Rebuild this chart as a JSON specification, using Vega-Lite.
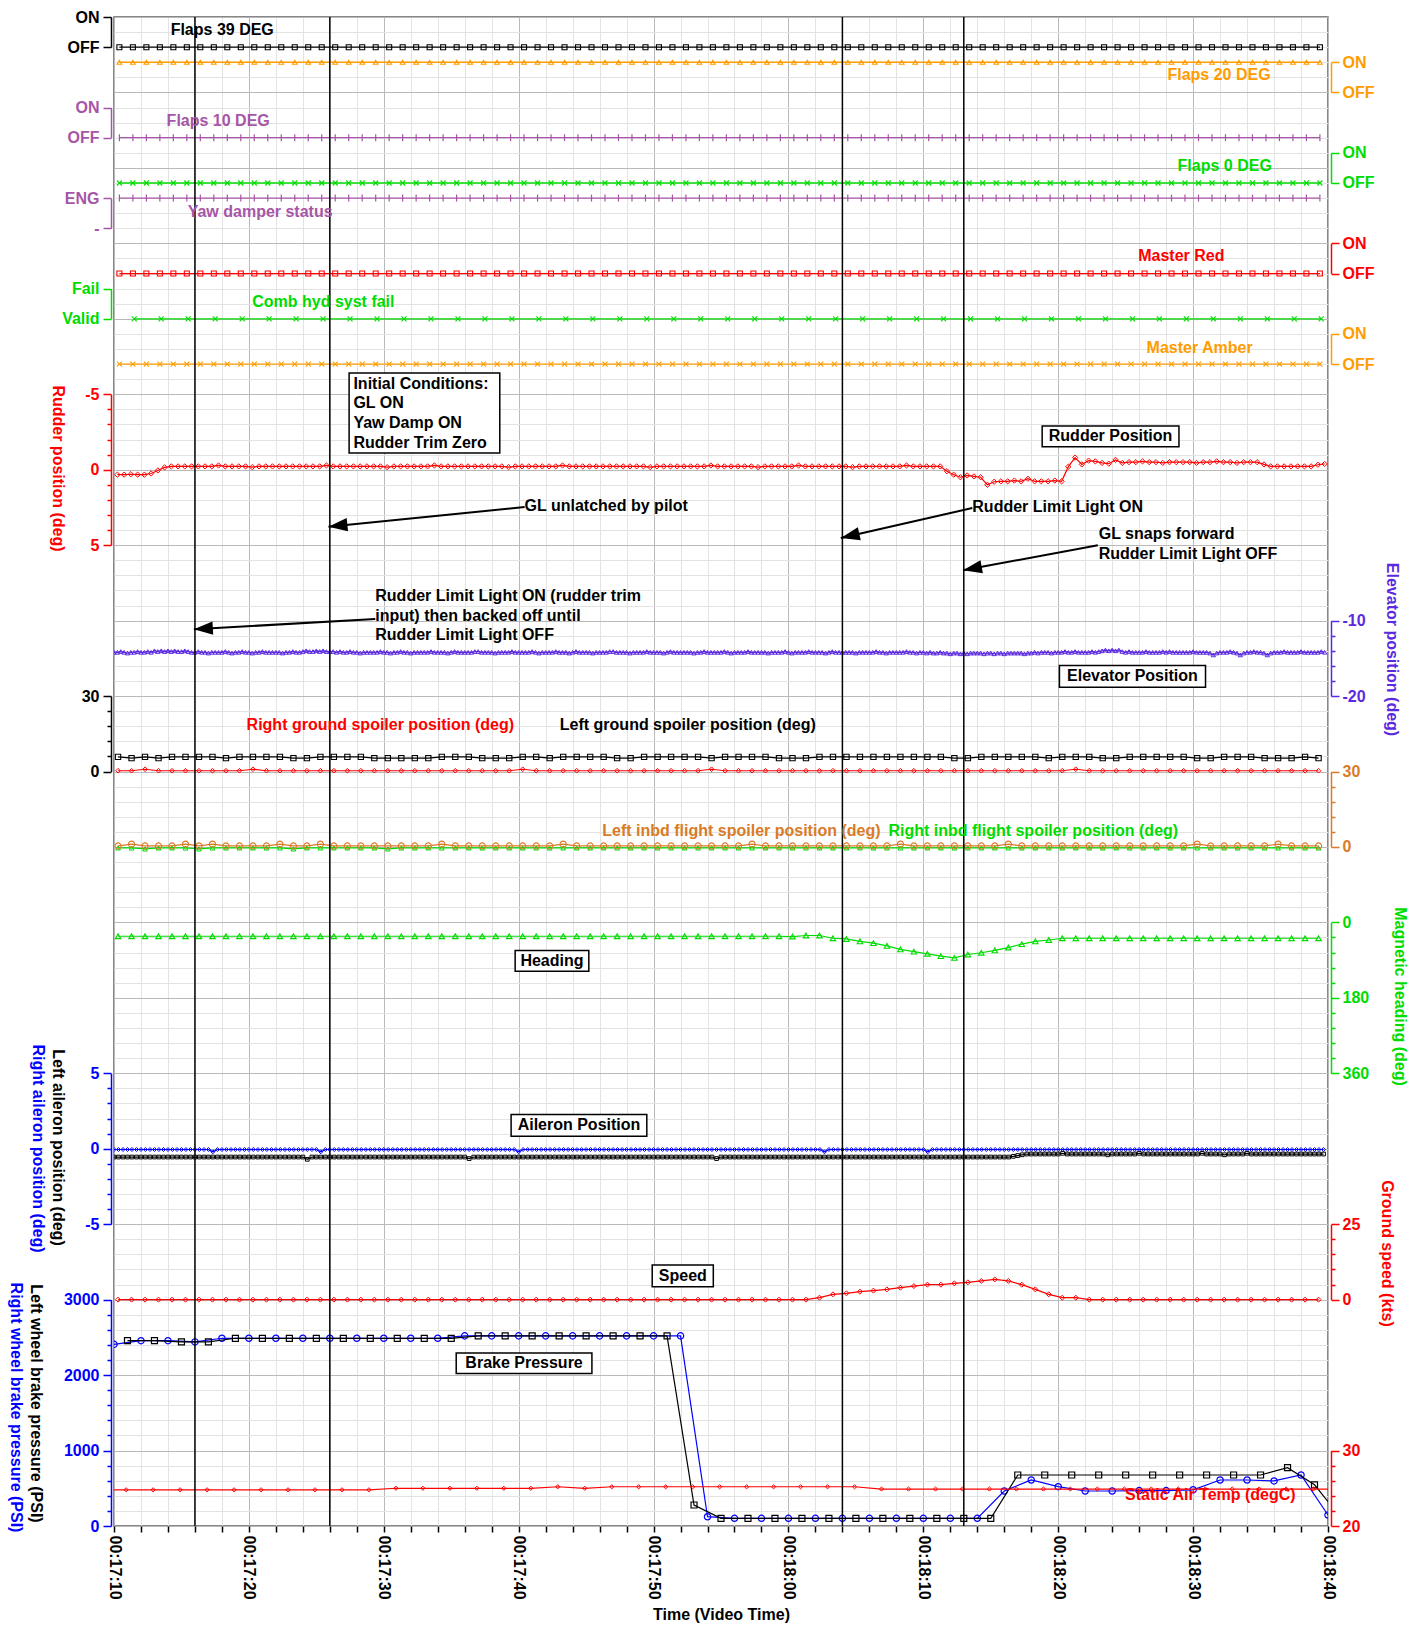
{
"$schema":"https://vega.github.io/schema/vega-lite/v6.json",
"width":1214,"height":1509,
"autosize":{"type":"none"},
"padding":{"left":114,"top":17,"right":85,"bottom":99},
"background":"white",
"config":{
 "view":{"stroke":"#606060","strokeWidth":1.5},
 "font":"Liberation Sans",
 "axis":{"labelFont":"Liberation Sans","labelFontSize":16,"labelFontWeight":"bold","titleFont":"Liberation Sans","titleFontSize":16,"titleFontWeight":"bold","grid":false,"labelOverlap":false,"labelFlush":false,"domainWidth":1.5,"tickWidth":1.5},
 "text":{"font":"Liberation Sans","fontSize":16,"fontWeight":"bold"}
},
"datasets":{
"frame":[{"t":0,"g":0},{"t":90,"g":100}],
"events":[{"t":6},{"t":16},{"t":54},{"t":63}],
"bin":[
{"t":0.4,"f39":0,"f20":1,"f10":0,"f0":0,"yd":1,"mr":0,"ma":0},{"t":1.4,"f39":0,"f20":1,"f10":0,"f0":0,"yd":1,"mr":0,"ma":0},{"t":2.4,"f39":0,"f20":1,"f10":0,"f0":0,"yd":1,"mr":0,"ma":0},{"t":3.4,"f39":0,"f20":1,"f10":0,"f0":0,"yd":1,"mr":0,"ma":0},{"t":4.4,"f39":0,"f20":1,"f10":0,"f0":0,"yd":1,"mr":0,"ma":0},
{"t":5.4,"f39":0,"f20":1,"f10":0,"f0":0,"yd":1,"mr":0,"ma":0},{"t":6.4,"f39":0,"f20":1,"f10":0,"f0":0,"yd":1,"mr":0,"ma":0},{"t":7.4,"f39":0,"f20":1,"f10":0,"f0":0,"yd":1,"mr":0,"ma":0},{"t":8.4,"f39":0,"f20":1,"f10":0,"f0":0,"yd":1,"mr":0,"ma":0},{"t":9.4,"f39":0,"f20":1,"f10":0,"f0":0,"yd":1,"mr":0,"ma":0},
{"t":10.4,"f39":0,"f20":1,"f10":0,"f0":0,"yd":1,"mr":0,"ma":0},{"t":11.4,"f39":0,"f20":1,"f10":0,"f0":0,"yd":1,"mr":0,"ma":0},{"t":12.4,"f39":0,"f20":1,"f10":0,"f0":0,"yd":1,"mr":0,"ma":0},{"t":13.4,"f39":0,"f20":1,"f10":0,"f0":0,"yd":1,"mr":0,"ma":0},{"t":14.4,"f39":0,"f20":1,"f10":0,"f0":0,"yd":1,"mr":0,"ma":0},
{"t":15.4,"f39":0,"f20":1,"f10":0,"f0":0,"yd":1,"mr":0,"ma":0},{"t":16.4,"f39":0,"f20":1,"f10":0,"f0":0,"yd":1,"mr":0,"ma":0},{"t":17.4,"f39":0,"f20":1,"f10":0,"f0":0,"yd":1,"mr":0,"ma":0},{"t":18.4,"f39":0,"f20":1,"f10":0,"f0":0,"yd":1,"mr":0,"ma":0},{"t":19.4,"f39":0,"f20":1,"f10":0,"f0":0,"yd":1,"mr":0,"ma":0},
{"t":20.4,"f39":0,"f20":1,"f10":0,"f0":0,"yd":1,"mr":0,"ma":0},{"t":21.4,"f39":0,"f20":1,"f10":0,"f0":0,"yd":1,"mr":0,"ma":0},{"t":22.4,"f39":0,"f20":1,"f10":0,"f0":0,"yd":1,"mr":0,"ma":0},{"t":23.4,"f39":0,"f20":1,"f10":0,"f0":0,"yd":1,"mr":0,"ma":0},{"t":24.4,"f39":0,"f20":1,"f10":0,"f0":0,"yd":1,"mr":0,"ma":0},
{"t":25.4,"f39":0,"f20":1,"f10":0,"f0":0,"yd":1,"mr":0,"ma":0},{"t":26.4,"f39":0,"f20":1,"f10":0,"f0":0,"yd":1,"mr":0,"ma":0},{"t":27.4,"f39":0,"f20":1,"f10":0,"f0":0,"yd":1,"mr":0,"ma":0},{"t":28.4,"f39":0,"f20":1,"f10":0,"f0":0,"yd":1,"mr":0,"ma":0},{"t":29.4,"f39":0,"f20":1,"f10":0,"f0":0,"yd":1,"mr":0,"ma":0},
{"t":30.4,"f39":0,"f20":1,"f10":0,"f0":0,"yd":1,"mr":0,"ma":0},{"t":31.4,"f39":0,"f20":1,"f10":0,"f0":0,"yd":1,"mr":0,"ma":0},{"t":32.4,"f39":0,"f20":1,"f10":0,"f0":0,"yd":1,"mr":0,"ma":0},{"t":33.4,"f39":0,"f20":1,"f10":0,"f0":0,"yd":1,"mr":0,"ma":0},{"t":34.4,"f39":0,"f20":1,"f10":0,"f0":0,"yd":1,"mr":0,"ma":0},
{"t":35.4,"f39":0,"f20":1,"f10":0,"f0":0,"yd":1,"mr":0,"ma":0},{"t":36.4,"f39":0,"f20":1,"f10":0,"f0":0,"yd":1,"mr":0,"ma":0},{"t":37.4,"f39":0,"f20":1,"f10":0,"f0":0,"yd":1,"mr":0,"ma":0},{"t":38.4,"f39":0,"f20":1,"f10":0,"f0":0,"yd":1,"mr":0,"ma":0},{"t":39.4,"f39":0,"f20":1,"f10":0,"f0":0,"yd":1,"mr":0,"ma":0},
{"t":40.4,"f39":0,"f20":1,"f10":0,"f0":0,"yd":1,"mr":0,"ma":0},{"t":41.4,"f39":0,"f20":1,"f10":0,"f0":0,"yd":1,"mr":0,"ma":0},{"t":42.4,"f39":0,"f20":1,"f10":0,"f0":0,"yd":1,"mr":0,"ma":0},{"t":43.4,"f39":0,"f20":1,"f10":0,"f0":0,"yd":1,"mr":0,"ma":0},{"t":44.4,"f39":0,"f20":1,"f10":0,"f0":0,"yd":1,"mr":0,"ma":0},
{"t":45.4,"f39":0,"f20":1,"f10":0,"f0":0,"yd":1,"mr":0,"ma":0},{"t":46.4,"f39":0,"f20":1,"f10":0,"f0":0,"yd":1,"mr":0,"ma":0},{"t":47.4,"f39":0,"f20":1,"f10":0,"f0":0,"yd":1,"mr":0,"ma":0},{"t":48.4,"f39":0,"f20":1,"f10":0,"f0":0,"yd":1,"mr":0,"ma":0},{"t":49.4,"f39":0,"f20":1,"f10":0,"f0":0,"yd":1,"mr":0,"ma":0},
{"t":50.4,"f39":0,"f20":1,"f10":0,"f0":0,"yd":1,"mr":0,"ma":0},{"t":51.4,"f39":0,"f20":1,"f10":0,"f0":0,"yd":1,"mr":0,"ma":0},{"t":52.4,"f39":0,"f20":1,"f10":0,"f0":0,"yd":1,"mr":0,"ma":0},{"t":53.4,"f39":0,"f20":1,"f10":0,"f0":0,"yd":1,"mr":0,"ma":0},{"t":54.4,"f39":0,"f20":1,"f10":0,"f0":0,"yd":1,"mr":0,"ma":0},
{"t":55.4,"f39":0,"f20":1,"f10":0,"f0":0,"yd":1,"mr":0,"ma":0},{"t":56.4,"f39":0,"f20":1,"f10":0,"f0":0,"yd":1,"mr":0,"ma":0},{"t":57.4,"f39":0,"f20":1,"f10":0,"f0":0,"yd":1,"mr":0,"ma":0},{"t":58.4,"f39":0,"f20":1,"f10":0,"f0":0,"yd":1,"mr":0,"ma":0},{"t":59.4,"f39":0,"f20":1,"f10":0,"f0":0,"yd":1,"mr":0,"ma":0},
{"t":60.4,"f39":0,"f20":1,"f10":0,"f0":0,"yd":1,"mr":0,"ma":0},{"t":61.4,"f39":0,"f20":1,"f10":0,"f0":0,"yd":1,"mr":0,"ma":0},{"t":62.4,"f39":0,"f20":1,"f10":0,"f0":0,"yd":1,"mr":0,"ma":0},{"t":63.4,"f39":0,"f20":1,"f10":0,"f0":0,"yd":1,"mr":0,"ma":0},{"t":64.4,"f39":0,"f20":1,"f10":0,"f0":0,"yd":1,"mr":0,"ma":0},
{"t":65.4,"f39":0,"f20":1,"f10":0,"f0":0,"yd":1,"mr":0,"ma":0},{"t":66.4,"f39":0,"f20":1,"f10":0,"f0":0,"yd":1,"mr":0,"ma":0},{"t":67.4,"f39":0,"f20":1,"f10":0,"f0":0,"yd":1,"mr":0,"ma":0},{"t":68.4,"f39":0,"f20":1,"f10":0,"f0":0,"yd":1,"mr":0,"ma":0},{"t":69.4,"f39":0,"f20":1,"f10":0,"f0":0,"yd":1,"mr":0,"ma":0},
{"t":70.4,"f39":0,"f20":1,"f10":0,"f0":0,"yd":1,"mr":0,"ma":0},{"t":71.4,"f39":0,"f20":1,"f10":0,"f0":0,"yd":1,"mr":0,"ma":0},{"t":72.4,"f39":0,"f20":1,"f10":0,"f0":0,"yd":1,"mr":0,"ma":0},{"t":73.4,"f39":0,"f20":1,"f10":0,"f0":0,"yd":1,"mr":0,"ma":0},{"t":74.4,"f39":0,"f20":1,"f10":0,"f0":0,"yd":1,"mr":0,"ma":0},
{"t":75.4,"f39":0,"f20":1,"f10":0,"f0":0,"yd":1,"mr":0,"ma":0},{"t":76.4,"f39":0,"f20":1,"f10":0,"f0":0,"yd":1,"mr":0,"ma":0},{"t":77.4,"f39":0,"f20":1,"f10":0,"f0":0,"yd":1,"mr":0,"ma":0},{"t":78.4,"f39":0,"f20":1,"f10":0,"f0":0,"yd":1,"mr":0,"ma":0},{"t":79.4,"f39":0,"f20":1,"f10":0,"f0":0,"yd":1,"mr":0,"ma":0},
{"t":80.4,"f39":0,"f20":1,"f10":0,"f0":0,"yd":1,"mr":0,"ma":0},{"t":81.4,"f39":0,"f20":1,"f10":0,"f0":0,"yd":1,"mr":0,"ma":0},{"t":82.4,"f39":0,"f20":1,"f10":0,"f0":0,"yd":1,"mr":0,"ma":0},{"t":83.4,"f39":0,"f20":1,"f10":0,"f0":0,"yd":1,"mr":0,"ma":0},{"t":84.4,"f39":0,"f20":1,"f10":0,"f0":0,"yd":1,"mr":0,"ma":0},
{"t":85.4,"f39":0,"f20":1,"f10":0,"f0":0,"yd":1,"mr":0,"ma":0},{"t":86.4,"f39":0,"f20":1,"f10":0,"f0":0,"yd":1,"mr":0,"ma":0},{"t":87.4,"f39":0,"f20":1,"f10":0,"f0":0,"yd":1,"mr":0,"ma":0},{"t":88.4,"f39":0,"f20":1,"f10":0,"f0":0,"yd":1,"mr":0,"ma":0},{"t":89.4,"f39":0,"f20":1,"f10":0,"f0":0,"yd":1,"mr":0,"ma":0}
],
"hyd":[{"t":1.5,"ch":0},{"t":3.5,"ch":0},{"t":5.5,"ch":0},{"t":7.5,"ch":0},{"t":9.5,"ch":0},{"t":11.5,"ch":0},{"t":13.5,"ch":0},{"t":15.5,"ch":0},{"t":17.5,"ch":0},{"t":19.5,"ch":0},{"t":21.5,"ch":0},{"t":23.5,"ch":0},{"t":25.5,"ch":0},{"t":27.5,"ch":0},{"t":29.5,"ch":0},{"t":31.5,"ch":0},{"t":33.5,"ch":0},{"t":35.5,"ch":0},{"t":37.5,"ch":0},{"t":39.5,"ch":0},{"t":41.5,"ch":0},{"t":43.5,"ch":0},{"t":45.5,"ch":0},{"t":47.5,"ch":0},{"t":49.5,"ch":0},{"t":51.5,"ch":0},{"t":53.5,"ch":0},{"t":55.5,"ch":0},{"t":57.5,"ch":0},{"t":59.5,"ch":0},{"t":61.5,"ch":0},{"t":63.5,"ch":0},{"t":65.5,"ch":0},{"t":67.5,"ch":0},{"t":69.5,"ch":0},{"t":71.5,"ch":0},{"t":73.5,"ch":0},{"t":75.5,"ch":0},{"t":77.5,"ch":0},{"t":79.5,"ch":0},{"t":81.5,"ch":0},{"t":83.5,"ch":0},{"t":85.5,"ch":0},{"t":87.5,"ch":0},{"t":89.5,"ch":0}],
"rud":[
{"t":0.25,"v":0.33},{"t":0.75,"v":0.33},{"t":1.25,"v":0.3},{"t":1.75,"v":0.33},{"t":2.25,"v":0.33},{"t":2.75,"v":0.25},{"t":3.25,"v":0.05},{"t":3.75,"v":-0.15},{"t":4.25,"v":-0.22},{"t":4.75,"v":-0.22},
{"t":5.25,"v":-0.22},{"t":5.75,"v":-0.22},{"t":6.25,"v":-0.22},{"t":6.75,"v":-0.22},{"t":7.25,"v":-0.22},{"t":7.75,"v":-0.28},{"t":8.25,"v":-0.22},{"t":8.75,"v":-0.22},{"t":9.25,"v":-0.22},{"t":9.75,"v":-0.22},
{"t":10.25,"v":-0.17},{"t":10.75,"v":-0.22},{"t":11.25,"v":-0.22},{"t":11.75,"v":-0.22},{"t":12.25,"v":-0.22},{"t":12.75,"v":-0.22},{"t":13.25,"v":-0.22},{"t":13.75,"v":-0.22},{"t":14.25,"v":-0.22},{"t":14.75,"v":-0.22},
{"t":15.25,"v":-0.22},{"t":15.75,"v":-0.28},{"t":16.25,"v":-0.22},{"t":16.75,"v":-0.22},{"t":17.25,"v":-0.22},{"t":17.75,"v":-0.22},{"t":18.25,"v":-0.22},{"t":18.75,"v":-0.22},{"t":19.25,"v":-0.22},{"t":19.75,"v":-0.22},
{"t":20.25,"v":-0.17},{"t":20.75,"v":-0.22},{"t":21.25,"v":-0.22},{"t":21.75,"v":-0.22},{"t":22.25,"v":-0.22},{"t":22.75,"v":-0.22},{"t":23.25,"v":-0.22},{"t":23.75,"v":-0.28},{"t":24.25,"v":-0.22},{"t":24.75,"v":-0.22},
{"t":25.25,"v":-0.22},{"t":25.75,"v":-0.22},{"t":26.25,"v":-0.22},{"t":26.75,"v":-0.22},{"t":27.25,"v":-0.22},{"t":27.75,"v":-0.22},{"t":28.25,"v":-0.22},{"t":28.75,"v":-0.22},{"t":29.25,"v":-0.17},{"t":29.75,"v":-0.22},
{"t":30.25,"v":-0.22},{"t":30.75,"v":-0.22},{"t":31.25,"v":-0.22},{"t":31.75,"v":-0.22},{"t":32.25,"v":-0.22},{"t":32.75,"v":-0.22},{"t":33.25,"v":-0.28},{"t":33.75,"v":-0.22},{"t":34.25,"v":-0.22},{"t":34.75,"v":-0.22},
{"t":35.25,"v":-0.22},{"t":35.75,"v":-0.22},{"t":36.25,"v":-0.22},{"t":36.75,"v":-0.22},{"t":37.25,"v":-0.22},{"t":37.75,"v":-0.22},{"t":38.25,"v":-0.22},{"t":38.75,"v":-0.22},{"t":39.25,"v":-0.22},{"t":39.75,"v":-0.17},
{"t":40.25,"v":-0.22},{"t":40.75,"v":-0.22},{"t":41.25,"v":-0.22},{"t":41.75,"v":-0.22},{"t":42.25,"v":-0.22},{"t":42.75,"v":-0.22},{"t":43.25,"v":-0.22},{"t":43.75,"v":-0.22},{"t":44.25,"v":-0.28},{"t":44.75,"v":-0.22},
{"t":45.25,"v":-0.22},{"t":45.75,"v":-0.22},{"t":46.25,"v":-0.22},{"t":46.75,"v":-0.22},{"t":47.25,"v":-0.22},{"t":47.75,"v":-0.17},{"t":48.25,"v":-0.22},{"t":48.75,"v":-0.22},{"t":49.25,"v":-0.22},{"t":49.75,"v":-0.22},
{"t":50.25,"v":-0.22},{"t":50.75,"v":-0.28},{"t":51.25,"v":-0.22},{"t":51.75,"v":-0.22},{"t":52.25,"v":-0.22},{"t":52.75,"v":-0.22},{"t":53.25,"v":-0.22},{"t":53.75,"v":-0.22},{"t":54.25,"v":-0.22},{"t":54.75,"v":-0.17},
{"t":55.25,"v":-0.22},{"t":55.75,"v":-0.22},{"t":56.25,"v":-0.22},{"t":56.75,"v":-0.22},{"t":57.25,"v":-0.22},{"t":57.75,"v":-0.22},{"t":58.25,"v":-0.22},{"t":58.75,"v":-0.28},{"t":59.25,"v":-0.22},{"t":59.75,"v":-0.22},
{"t":60.25,"v":-0.22},{"t":60.75,"v":-0.22},{"t":61.25,"v":-0.22},{"t":61.75,"v":0.1},{"t":62.25,"v":0.33},{"t":62.75,"v":0.5},{"t":63.25,"v":0.38},{"t":63.75,"v":0.44},{"t":64.25,"v":0.5},{"t":64.75,"v":1.0},
{"t":65.25,"v":0.8},{"t":65.75,"v":0.77},{"t":66.25,"v":0.77},{"t":66.75,"v":0.72},{"t":67.25,"v":0.77},{"t":67.75,"v":0.6},{"t":68.25,"v":0.77},{"t":68.75,"v":0.77},{"t":69.25,"v":0.77},{"t":69.75,"v":0.72},
{"t":70.25,"v":0.77},{"t":70.75,"v":-0.2},{"t":71.25,"v":-0.8},{"t":71.75,"v":-0.35},{"t":72.25,"v":-0.6},{"t":72.75,"v":-0.55},{"t":73.25,"v":-0.45},{"t":73.75,"v":-0.4},{"t":74.25,"v":-0.65},{"t":74.75,"v":-0.45},
{"t":75.25,"v":-0.5},{"t":75.75,"v":-0.5},{"t":76.25,"v":-0.55},{"t":76.75,"v":-0.5},{"t":77.25,"v":-0.5},{"t":77.75,"v":-0.45},{"t":78.25,"v":-0.5},{"t":78.75,"v":-0.5},{"t":79.25,"v":-0.5},{"t":79.75,"v":-0.5},
{"t":80.25,"v":-0.45},{"t":80.75,"v":-0.5},{"t":81.25,"v":-0.5},{"t":81.75,"v":-0.55},{"t":82.25,"v":-0.5},{"t":82.75,"v":-0.5},{"t":83.25,"v":-0.45},{"t":83.75,"v":-0.5},{"t":84.25,"v":-0.5},{"t":84.75,"v":-0.5},
{"t":85.25,"v":-0.35},{"t":85.75,"v":-0.22},{"t":86.25,"v":-0.22},{"t":86.75,"v":-0.22},{"t":87.25,"v":-0.22},{"t":87.75,"v":-0.22},{"t":88.25,"v":-0.22},{"t":88.75,"v":-0.22},{"t":89.25,"v":-0.33},{"t":89.75,"v":-0.38}
],
"elev":[
{"t":0,"v":-14.2},{"t":0.25,"v":-14.2},{"t":0.5,"v":-14.1},{"t":0.75,"v":-14.2},{"t":1,"v":-14.3},{"t":1.25,"v":-14.2},{"t":1.5,"v":-14.2},{"t":1.75,"v":-14.1},{"t":2,"v":-14.2},{"t":2.25,"v":-14.2},{"t":2.5,"v":-14.1},{"t":2.75,"v":-14.2},
{"t":3,"v":-14.0},{"t":3.25,"v":-14.1},{"t":3.5,"v":-14.0},{"t":3.75,"v":-14.1},{"t":4,"v":-14.0},{"t":4.25,"v":-14.1},{"t":4.5,"v":-14.0},{"t":4.75,"v":-14.1},{"t":5,"v":-14.1},{"t":5.25,"v":-14.0},{"t":5.5,"v":-14.1},{"t":5.75,"v":-14.2},
{"t":6,"v":-14.2},{"t":6.25,"v":-14.1},{"t":6.5,"v":-14.2},{"t":6.75,"v":-14.2},{"t":7,"v":-14.3},{"t":7.25,"v":-14.2},{"t":7.5,"v":-14.2},{"t":7.75,"v":-14.2},{"t":8,"v":-14.2},{"t":8.25,"v":-14.1},{"t":8.5,"v":-14.2},{"t":8.75,"v":-14.3},
{"t":9,"v":-14.2},{"t":9.25,"v":-14.2},{"t":9.5,"v":-14.1},{"t":9.75,"v":-14.2},{"t":10,"v":-14.2},{"t":10.25,"v":-14.3},{"t":10.5,"v":-14.2},{"t":10.75,"v":-14.2},{"t":11,"v":-14.1},{"t":11.25,"v":-14.2},{"t":11.5,"v":-14.2},{"t":11.75,"v":-14.2},
{"t":12,"v":-14.2},{"t":12.25,"v":-14.2},{"t":12.5,"v":-14.3},{"t":12.75,"v":-14.2},{"t":13,"v":-14.2},{"t":13.25,"v":-14.1},{"t":13.5,"v":-14.2},{"t":13.75,"v":-14.2},{"t":14,"v":-14.1},{"t":14.25,"v":-14.0},{"t":14.5,"v":-14.1},{"t":14.75,"v":-14.1},
{"t":15,"v":-14.0},{"t":15.25,"v":-14.1},{"t":15.5,"v":-14.0},{"t":15.75,"v":-14.1},{"t":16,"v":-14.1},{"t":16.25,"v":-14.1},{"t":16.5,"v":-14.2},{"t":16.75,"v":-14.1},{"t":17,"v":-14.2},{"t":17.25,"v":-14.2},{"t":17.5,"v":-14.1},{"t":17.75,"v":-14.2},
{"t":18,"v":-14.2},{"t":18.25,"v":-14.3},{"t":18.5,"v":-14.2},{"t":18.75,"v":-14.2},{"t":19,"v":-14.2},{"t":19.25,"v":-14.2},{"t":19.5,"v":-14.2},{"t":19.75,"v":-14.1},{"t":20,"v":-14.2},{"t":20.25,"v":-14.2},{"t":20.5,"v":-14.3},{"t":20.75,"v":-14.2},
{"t":21,"v":-14.2},{"t":21.25,"v":-14.1},{"t":21.5,"v":-14.2},{"t":21.75,"v":-14.2},{"t":22,"v":-14.3},{"t":22.25,"v":-14.2},{"t":22.5,"v":-14.2},{"t":22.75,"v":-14.2},{"t":23,"v":-14.2},{"t":23.25,"v":-14.2},{"t":23.5,"v":-14.1},{"t":23.75,"v":-14.2},
{"t":24,"v":-14.2},{"t":24.25,"v":-14.2},{"t":24.5,"v":-14.2},{"t":24.75,"v":-14.3},{"t":25,"v":-14.2},{"t":25.25,"v":-14.1},{"t":25.5,"v":-14.2},{"t":25.75,"v":-14.2},{"t":26,"v":-14.2},{"t":26.25,"v":-14.2},{"t":26.5,"v":-14.2},{"t":26.75,"v":-14.1},
{"t":27,"v":-14.1},{"t":27.25,"v":-14.2},{"t":27.5,"v":-14.2},{"t":27.75,"v":-14.2},{"t":28,"v":-14.2},{"t":28.25,"v":-14.3},{"t":28.5,"v":-14.2},{"t":28.75,"v":-14.2},{"t":29,"v":-14.2},{"t":29.25,"v":-14.2},{"t":29.5,"v":-14.1},{"t":29.75,"v":-14.2},
{"t":30,"v":-14.2},{"t":30.25,"v":-14.2},{"t":30.5,"v":-14.2},{"t":30.75,"v":-14.2},{"t":31,"v":-14.1},{"t":31.25,"v":-14.2},{"t":31.5,"v":-14.3},{"t":31.75,"v":-14.2},{"t":32,"v":-14.2},{"t":32.25,"v":-14.2},{"t":32.5,"v":-14.2},{"t":32.75,"v":-14.1},
{"t":33,"v":-14.2},{"t":33.25,"v":-14.2},{"t":33.5,"v":-14.2},{"t":33.75,"v":-14.3},{"t":34,"v":-14.2},{"t":34.25,"v":-14.1},{"t":34.5,"v":-14.2},{"t":34.75,"v":-14.2},{"t":35,"v":-14.2},{"t":35.25,"v":-14.2},{"t":35.5,"v":-14.3},{"t":35.75,"v":-14.2},
{"t":36,"v":-14.2},{"t":36.25,"v":-14.2},{"t":36.5,"v":-14.2},{"t":36.75,"v":-14.1},{"t":37,"v":-14.1},{"t":37.25,"v":-14.2},{"t":37.5,"v":-14.2},{"t":37.75,"v":-14.2},{"t":38,"v":-14.2},{"t":38.25,"v":-14.3},{"t":38.5,"v":-14.2},{"t":38.75,"v":-14.2},
{"t":39,"v":-14.2},{"t":39.25,"v":-14.2},{"t":39.5,"v":-14.1},{"t":39.75,"v":-14.2},{"t":40,"v":-14.2},{"t":40.25,"v":-14.2},{"t":40.5,"v":-14.2},{"t":40.75,"v":-14.3},{"t":41,"v":-14.2},{"t":41.25,"v":-14.1},{"t":41.5,"v":-14.2},{"t":41.75,"v":-14.2},
{"t":42,"v":-14.2},{"t":42.25,"v":-14.2},{"t":42.5,"v":-14.2},{"t":42.75,"v":-14.2},{"t":43,"v":-14.3},{"t":43.25,"v":-14.2},{"t":43.5,"v":-14.2},{"t":43.75,"v":-14.1},{"t":44,"v":-14.2},{"t":44.25,"v":-14.2},{"t":44.5,"v":-14.2},{"t":44.75,"v":-14.2},
{"t":45,"v":-14.2},{"t":45.25,"v":-14.1},{"t":45.5,"v":-14.2},{"t":45.75,"v":-14.3},{"t":46,"v":-14.2},{"t":46.25,"v":-14.2},{"t":46.5,"v":-14.2},{"t":46.75,"v":-14.2},{"t":47,"v":-14.1},{"t":47.25,"v":-14.2},{"t":47.5,"v":-14.2},{"t":47.75,"v":-14.2},
{"t":48,"v":-14.2},{"t":48.25,"v":-14.2},{"t":48.5,"v":-14.3},{"t":48.75,"v":-14.2},{"t":49,"v":-14.2},{"t":49.25,"v":-14.2},{"t":49.5,"v":-14.2},{"t":49.75,"v":-14.1},{"t":50,"v":-14.2},{"t":50.25,"v":-14.3},{"t":50.5,"v":-14.2},{"t":50.75,"v":-14.2},
{"t":51,"v":-14.2},{"t":51.25,"v":-14.2},{"t":51.5,"v":-14.1},{"t":51.75,"v":-14.2},{"t":52,"v":-14.2},{"t":52.25,"v":-14.2},{"t":52.5,"v":-14.2},{"t":52.75,"v":-14.3},{"t":53,"v":-14.2},{"t":53.25,"v":-14.1},{"t":53.5,"v":-14.2},{"t":53.75,"v":-14.2},
{"t":54,"v":-14.2},{"t":54.25,"v":-14.2},{"t":54.5,"v":-14.2},{"t":54.75,"v":-14.2},{"t":55,"v":-14.3},{"t":55.25,"v":-14.2},{"t":55.5,"v":-14.2},{"t":55.75,"v":-14.2},{"t":56,"v":-14.2},{"t":56.25,"v":-14.2},{"t":56.5,"v":-14.1},{"t":56.75,"v":-14.2},
{"t":57,"v":-14.2},{"t":57.25,"v":-14.3},{"t":57.5,"v":-14.2},{"t":57.75,"v":-14.2},{"t":58,"v":-14.2},{"t":58.25,"v":-14.2},{"t":58.5,"v":-14.2},{"t":58.75,"v":-14.1},{"t":59,"v":-14.2},{"t":59.25,"v":-14.2},{"t":59.5,"v":-14.3},{"t":59.75,"v":-14.2},
{"t":60,"v":-14.2},{"t":60.25,"v":-14.3},{"t":60.5,"v":-14.2},{"t":60.75,"v":-14.3},{"t":61,"v":-14.3},{"t":61.25,"v":-14.2},{"t":61.5,"v":-14.3},{"t":61.75,"v":-14.3},{"t":62,"v":-14.4},{"t":62.25,"v":-14.3},{"t":62.5,"v":-14.3},{"t":62.75,"v":-14.4},
{"t":63,"v":-14.3},{"t":63.25,"v":-14.4},{"t":63.5,"v":-14.3},{"t":63.75,"v":-14.3},{"t":64,"v":-14.3},{"t":64.25,"v":-14.3},{"t":64.5,"v":-14.4},{"t":64.75,"v":-14.3},{"t":65,"v":-14.3},{"t":65.25,"v":-14.4},{"t":65.5,"v":-14.3},{"t":65.75,"v":-14.3},
{"t":66,"v":-14.4},{"t":66.25,"v":-14.3},{"t":66.5,"v":-14.3},{"t":66.75,"v":-14.3},{"t":67,"v":-14.3},{"t":67.25,"v":-14.3},{"t":67.5,"v":-14.4},{"t":67.75,"v":-14.3},{"t":68,"v":-14.3},{"t":68.25,"v":-14.2},{"t":68.5,"v":-14.3},{"t":68.75,"v":-14.2},
{"t":69,"v":-14.2},{"t":69.25,"v":-14.2},{"t":69.5,"v":-14.3},{"t":69.75,"v":-14.2},{"t":70,"v":-14.2},{"t":70.25,"v":-14.2},{"t":70.5,"v":-14.1},{"t":70.75,"v":-14.2},{"t":71,"v":-14.2},{"t":71.25,"v":-14.1},{"t":71.5,"v":-14.2},{"t":71.75,"v":-14.2},
{"t":72,"v":-14.2},{"t":72.25,"v":-14.2},{"t":72.5,"v":-14.1},{"t":72.75,"v":-14.2},{"t":73,"v":-14.1},{"t":73.25,"v":-14.0},{"t":73.5,"v":-13.9},{"t":73.75,"v":-14.0},{"t":74,"v":-13.9},{"t":74.25,"v":-14.0},{"t":74.5,"v":-13.9},{"t":74.75,"v":-14.1},
{"t":75,"v":-14.2},{"t":75.25,"v":-14.1},{"t":75.5,"v":-14.2},{"t":75.75,"v":-14.2},{"t":76,"v":-14.2},{"t":76.25,"v":-14.2},{"t":76.5,"v":-14.1},{"t":76.75,"v":-14.2},{"t":77,"v":-14.2},{"t":77.25,"v":-14.2},{"t":77.5,"v":-14.2},{"t":77.75,"v":-14.1},
{"t":78,"v":-14.2},{"t":78.25,"v":-14.1},{"t":78.5,"v":-14.2},{"t":78.75,"v":-14.2},{"t":79,"v":-14.2},{"t":79.25,"v":-14.2},{"t":79.5,"v":-14.2},{"t":79.75,"v":-14.2},{"t":80,"v":-14.1},{"t":80.25,"v":-14.2},{"t":80.5,"v":-14.2},{"t":80.75,"v":-14.2},
{"t":81,"v":-14.2},{"t":81.25,"v":-14.3},{"t":81.5,"v":-14.55},{"t":81.75,"v":-14.3},{"t":82,"v":-14.2},{"t":82.25,"v":-14.2},{"t":82.5,"v":-14.2},{"t":82.75,"v":-14.1},{"t":83,"v":-14.2},{"t":83.25,"v":-14.3},{"t":83.5,"v":-14.55},{"t":83.75,"v":-14.3},
{"t":84,"v":-14.2},{"t":84.25,"v":-14.2},{"t":84.5,"v":-14.1},{"t":84.75,"v":-14.2},{"t":85,"v":-14.2},{"t":85.25,"v":-14.3},{"t":85.5,"v":-14.55},{"t":85.75,"v":-14.3},{"t":86,"v":-14.2},{"t":86.25,"v":-14.2},{"t":86.5,"v":-14.2},{"t":86.75,"v":-14.1},
{"t":87,"v":-14.2},{"t":87.25,"v":-14.2},{"t":87.5,"v":-14.2},{"t":87.75,"v":-14.2},{"t":88,"v":-14.1},{"t":88.25,"v":-14.2},{"t":88.5,"v":-14.2},{"t":88.75,"v":-14.2},{"t":89,"v":-14.2},{"t":89.25,"v":-14.2},{"t":89.5,"v":-14.1},{"t":89.75,"v":-14.2}
],
"ail":[
{"t":0,"l":-0.55,"r":-0.05},{"t":0.33,"l":-0.55,"r":-0.05},{"t":0.67,"l":-0.55,"r":-0.05},{"t":1,"l":-0.55,"r":-0.05},{"t":1.33,"l":-0.55,"r":-0.05},{"t":1.67,"l":-0.55,"r":-0.05},{"t":2,"l":-0.55,"r":-0.05},{"t":2.33,"l":-0.55,"r":-0.05},{"t":2.67,"l":-0.55,"r":-0.05},
{"t":3,"l":-0.55,"r":-0.05},{"t":3.33,"l":-0.55,"r":-0.05},{"t":3.67,"l":-0.55,"r":-0.05},{"t":4,"l":-0.55,"r":-0.05},{"t":4.33,"l":-0.55,"r":-0.05},{"t":4.67,"l":-0.55,"r":-0.05},{"t":5,"l":-0.55,"r":-0.05},{"t":5.33,"l":-0.55,"r":-0.05},{"t":5.67,"l":-0.55,"r":-0.05},
{"t":6,"l":-0.55,"r":-0.05},{"t":6.33,"l":-0.55,"r":-0.05},{"t":6.67,"l":-0.55,"r":-0.05},{"t":7,"l":-0.55,"r":-0.05},{"t":7.33,"l":-0.55,"r":-0.2},{"t":7.67,"l":-0.55,"r":-0.05},{"t":8,"l":-0.55,"r":-0.05},{"t":8.33,"l":-0.55,"r":-0.05},{"t":8.67,"l":-0.55,"r":-0.05},
{"t":9,"l":-0.55,"r":-0.05},{"t":9.33,"l":-0.55,"r":-0.05},{"t":9.67,"l":-0.55,"r":-0.05},{"t":10,"l":-0.55,"r":-0.05},{"t":10.33,"l":-0.55,"r":-0.05},{"t":10.67,"l":-0.55,"r":-0.05},{"t":11,"l":-0.55,"r":-0.05},{"t":11.33,"l":-0.55,"r":-0.05},{"t":11.67,"l":-0.55,"r":-0.05},
{"t":12,"l":-0.55,"r":-0.05},{"t":12.33,"l":-0.55,"r":-0.05},{"t":12.67,"l":-0.55,"r":-0.05},{"t":13,"l":-0.55,"r":-0.05},{"t":13.33,"l":-0.55,"r":-0.05},{"t":13.67,"l":-0.55,"r":-0.05},{"t":14,"l":-0.55,"r":-0.05},{"t":14.33,"l":-0.7,"r":-0.05},{"t":14.67,"l":-0.55,"r":-0.05},
{"t":15,"l":-0.55,"r":-0.05},{"t":15.33,"l":-0.55,"r":-0.2},{"t":15.67,"l":-0.55,"r":-0.05},{"t":16,"l":-0.55,"r":-0.05},{"t":16.33,"l":-0.55,"r":-0.05},{"t":16.67,"l":-0.55,"r":-0.05},{"t":17,"l":-0.55,"r":-0.05},{"t":17.33,"l":-0.55,"r":-0.05},{"t":17.67,"l":-0.55,"r":-0.05},
{"t":18,"l":-0.55,"r":-0.05},{"t":18.33,"l":-0.55,"r":-0.05},{"t":18.67,"l":-0.55,"r":-0.05},{"t":19,"l":-0.55,"r":-0.05},{"t":19.33,"l":-0.55,"r":-0.05},{"t":19.67,"l":-0.55,"r":-0.05},{"t":20,"l":-0.55,"r":-0.05},{"t":20.33,"l":-0.55,"r":-0.05},{"t":20.67,"l":-0.55,"r":-0.05},
{"t":21,"l":-0.55,"r":-0.05},{"t":21.33,"l":-0.55,"r":-0.05},{"t":21.67,"l":-0.55,"r":-0.05},{"t":22,"l":-0.55,"r":-0.05},{"t":22.33,"l":-0.55,"r":-0.05},{"t":22.67,"l":-0.55,"r":-0.05},{"t":23,"l":-0.55,"r":-0.05},{"t":23.33,"l":-0.55,"r":-0.05},{"t":23.67,"l":-0.55,"r":-0.05},
{"t":24,"l":-0.55,"r":-0.05},{"t":24.33,"l":-0.55,"r":-0.05},{"t":24.67,"l":-0.55,"r":-0.05},{"t":25,"l":-0.55,"r":-0.05},{"t":25.33,"l":-0.55,"r":-0.05},{"t":25.67,"l":-0.55,"r":-0.05},{"t":26,"l":-0.55,"r":-0.05},{"t":26.33,"l":-0.65,"r":-0.05},{"t":26.67,"l":-0.55,"r":-0.05},
{"t":27,"l":-0.55,"r":-0.05},{"t":27.33,"l":-0.55,"r":-0.05},{"t":27.67,"l":-0.55,"r":-0.05},{"t":28,"l":-0.55,"r":-0.05},{"t":28.33,"l":-0.55,"r":-0.05},{"t":28.67,"l":-0.55,"r":-0.05},{"t":29,"l":-0.55,"r":-0.05},{"t":29.33,"l":-0.55,"r":-0.05},{"t":29.67,"l":-0.55,"r":-0.05},
{"t":30,"l":-0.55,"r":-0.2},{"t":30.33,"l":-0.55,"r":-0.05},{"t":30.67,"l":-0.55,"r":-0.05},{"t":31,"l":-0.55,"r":-0.05},{"t":31.33,"l":-0.55,"r":-0.05},{"t":31.67,"l":-0.55,"r":-0.05},{"t":32,"l":-0.55,"r":-0.05},{"t":32.33,"l":-0.55,"r":-0.05},{"t":32.67,"l":-0.55,"r":-0.05},
{"t":33,"l":-0.55,"r":-0.05},{"t":33.33,"l":-0.55,"r":-0.05},{"t":33.67,"l":-0.55,"r":-0.05},{"t":34,"l":-0.55,"r":-0.05},{"t":34.33,"l":-0.55,"r":-0.05},{"t":34.67,"l":-0.55,"r":-0.05},{"t":35,"l":-0.55,"r":-0.05},{"t":35.33,"l":-0.55,"r":-0.05},{"t":35.67,"l":-0.55,"r":-0.05},
{"t":36,"l":-0.55,"r":-0.05},{"t":36.33,"l":-0.55,"r":-0.05},{"t":36.67,"l":-0.55,"r":-0.05},{"t":37,"l":-0.55,"r":-0.05},{"t":37.33,"l":-0.55,"r":-0.05},{"t":37.67,"l":-0.55,"r":-0.05},{"t":38,"l":-0.55,"r":-0.05},{"t":38.33,"l":-0.55,"r":-0.05},{"t":38.67,"l":-0.55,"r":-0.05},
{"t":39,"l":-0.55,"r":-0.05},{"t":39.33,"l":-0.55,"r":-0.05},{"t":39.67,"l":-0.55,"r":-0.05},{"t":40,"l":-0.55,"r":-0.05},{"t":40.33,"l":-0.55,"r":-0.05},{"t":40.67,"l":-0.55,"r":-0.05},{"t":41,"l":-0.55,"r":-0.05},{"t":41.33,"l":-0.55,"r":-0.05},{"t":41.67,"l":-0.55,"r":-0.05},
{"t":42,"l":-0.55,"r":-0.05},{"t":42.33,"l":-0.55,"r":-0.05},{"t":42.67,"l":-0.55,"r":-0.05},{"t":43,"l":-0.55,"r":-0.05},{"t":43.33,"l":-0.55,"r":-0.05},{"t":43.67,"l":-0.55,"r":-0.05},{"t":44,"l":-0.55,"r":-0.05},{"t":44.33,"l":-0.55,"r":-0.05},{"t":44.67,"l":-0.65,"r":-0.05},
{"t":45,"l":-0.55,"r":-0.05},{"t":45.33,"l":-0.55,"r":-0.05},{"t":45.67,"l":-0.55,"r":-0.05},{"t":46,"l":-0.55,"r":-0.05},{"t":46.33,"l":-0.55,"r":-0.05},{"t":46.67,"l":-0.55,"r":-0.05},{"t":47,"l":-0.55,"r":-0.05},{"t":47.33,"l":-0.55,"r":-0.05},{"t":47.67,"l":-0.55,"r":-0.05},
{"t":48,"l":-0.55,"r":-0.05},{"t":48.33,"l":-0.55,"r":-0.05},{"t":48.67,"l":-0.55,"r":-0.05},{"t":49,"l":-0.55,"r":-0.05},{"t":49.33,"l":-0.55,"r":-0.05},{"t":49.67,"l":-0.55,"r":-0.05},{"t":50,"l":-0.55,"r":-0.05},{"t":50.33,"l":-0.55,"r":-0.05},{"t":50.67,"l":-0.55,"r":-0.05},
{"t":51,"l":-0.55,"r":-0.05},{"t":51.33,"l":-0.55,"r":-0.05},{"t":51.67,"l":-0.55,"r":-0.05},{"t":52,"l":-0.55,"r":-0.05},{"t":52.33,"l":-0.55,"r":-0.05},{"t":52.67,"l":-0.55,"r":-0.2},{"t":53,"l":-0.55,"r":-0.05},{"t":53.33,"l":-0.55,"r":-0.05},{"t":53.67,"l":-0.55,"r":-0.05},
{"t":54,"l":-0.55,"r":-0.05},{"t":54.33,"l":-0.55,"r":-0.05},{"t":54.67,"l":-0.55,"r":-0.05},{"t":55,"l":-0.55,"r":-0.05},{"t":55.33,"l":-0.55,"r":-0.05},{"t":55.67,"l":-0.55,"r":-0.05},{"t":56,"l":-0.55,"r":-0.05},{"t":56.33,"l":-0.55,"r":-0.05},{"t":56.67,"l":-0.55,"r":-0.05},
{"t":57,"l":-0.55,"r":-0.05},{"t":57.33,"l":-0.55,"r":-0.05},{"t":57.67,"l":-0.55,"r":-0.05},{"t":58,"l":-0.55,"r":-0.05},{"t":58.33,"l":-0.55,"r":-0.05},{"t":58.67,"l":-0.55,"r":-0.05},{"t":59,"l":-0.55,"r":-0.05},{"t":59.33,"l":-0.55,"r":-0.05},{"t":59.67,"l":-0.55,"r":-0.05},
{"t":60,"l":-0.55,"r":-0.05},{"t":60.33,"l":-0.55,"r":-0.2},{"t":60.67,"l":-0.55,"r":-0.05},{"t":61,"l":-0.55,"r":-0.05},{"t":61.33,"l":-0.55,"r":-0.05},{"t":61.67,"l":-0.55,"r":-0.05},{"t":62,"l":-0.55,"r":-0.05},{"t":62.33,"l":-0.55,"r":-0.05},{"t":62.67,"l":-0.55,"r":-0.05},
{"t":63,"l":-0.55,"r":-0.05},{"t":63.33,"l":-0.55,"r":-0.05},{"t":63.67,"l":-0.55,"r":-0.05},{"t":64,"l":-0.55,"r":-0.05},{"t":64.33,"l":-0.55,"r":-0.05},{"t":64.67,"l":-0.55,"r":-0.05},{"t":65,"l":-0.55,"r":-0.05},{"t":65.33,"l":-0.55,"r":-0.05},{"t":65.67,"l":-0.55,"r":-0.05},
{"t":66,"l":-0.55,"r":-0.05},{"t":66.33,"l":-0.55,"r":-0.05},{"t":66.67,"l":-0.5,"r":-0.05},{"t":67,"l":-0.45,"r":-0.05},{"t":67.33,"l":-0.4,"r":-0.05},{"t":67.67,"l":-0.35,"r":-0.05},{"t":68,"l":-0.35,"r":-0.05},{"t":68.33,"l":-0.35,"r":-0.05},{"t":68.67,"l":-0.35,"r":-0.05},
{"t":69,"l":-0.35,"r":-0.05},{"t":69.33,"l":-0.35,"r":-0.05},{"t":69.67,"l":-0.35,"r":-0.05},{"t":70,"l":-0.35,"r":-0.05},{"t":70.33,"l":-0.3,"r":-0.05},{"t":70.67,"l":-0.35,"r":-0.05},{"t":71,"l":-0.35,"r":-0.05},{"t":71.33,"l":-0.35,"r":-0.05},{"t":71.67,"l":-0.35,"r":-0.05},
{"t":72,"l":-0.35,"r":-0.05},{"t":72.33,"l":-0.35,"r":-0.05},{"t":72.67,"l":-0.35,"r":-0.05},{"t":73,"l":-0.35,"r":-0.05},{"t":73.33,"l":-0.35,"r":-0.05},{"t":73.67,"l":-0.4,"r":-0.05},{"t":74,"l":-0.35,"r":-0.05},{"t":74.33,"l":-0.35,"r":-0.05},{"t":74.67,"l":-0.35,"r":-0.05},
{"t":75,"l":-0.35,"r":-0.05},{"t":75.33,"l":-0.35,"r":-0.05},{"t":75.67,"l":-0.35,"r":-0.05},{"t":76,"l":-0.3,"r":-0.05},{"t":76.33,"l":-0.35,"r":-0.05},{"t":76.67,"l":-0.35,"r":-0.05},{"t":77,"l":-0.35,"r":-0.05},{"t":77.33,"l":-0.35,"r":-0.05},{"t":77.67,"l":-0.35,"r":-0.05},
{"t":78,"l":-0.35,"r":-0.05},{"t":78.33,"l":-0.35,"r":-0.05},{"t":78.67,"l":-0.35,"r":-0.05},{"t":79,"l":-0.35,"r":-0.05},{"t":79.33,"l":-0.35,"r":-0.05},{"t":79.67,"l":-0.35,"r":-0.05},{"t":80,"l":-0.35,"r":-0.05},{"t":80.33,"l":-0.35,"r":-0.05},{"t":80.67,"l":-0.3,"r":-0.05},
{"t":81,"l":-0.35,"r":-0.05},{"t":81.33,"l":-0.35,"r":-0.05},{"t":81.67,"l":-0.35,"r":-0.05},{"t":82,"l":-0.35,"r":-0.05},{"t":82.33,"l":-0.4,"r":-0.05},{"t":82.67,"l":-0.35,"r":-0.05},{"t":83,"l":-0.35,"r":-0.05},{"t":83.33,"l":-0.35,"r":-0.05},{"t":83.67,"l":-0.35,"r":-0.05},
{"t":84,"l":-0.3,"r":-0.05},{"t":84.33,"l":-0.35,"r":-0.05},{"t":84.67,"l":-0.35,"r":-0.05},{"t":85,"l":-0.35,"r":-0.05},{"t":85.33,"l":-0.35,"r":-0.05},{"t":85.67,"l":-0.35,"r":-0.05},{"t":86,"l":-0.35,"r":-0.05},{"t":86.33,"l":-0.35,"r":-0.05},{"t":86.67,"l":-0.35,"r":-0.05},
{"t":87,"l":-0.35,"r":-0.05},{"t":87.33,"l":-0.35,"r":-0.05},{"t":87.67,"l":-0.35,"r":-0.05},{"t":88,"l":-0.35,"r":-0.05},{"t":88.33,"l":-0.35,"r":-0.05},{"t":88.67,"l":-0.35,"r":-0.05},{"t":89,"l":-0.35,"r":-0.05},{"t":89.33,"l":-0.35,"r":-0.05},{"t":89.67,"l":-0.35,"r":-0.05}
],
"s1":[
{"t":0.3,"lg":5.8,"rg":0.3,"lf":0.4,"rf":-0.4,"sp":0,"hd":33},{"t":1.3,"lg":5.3,"rg":0.3,"lf":1.1,"rf":-0.4,"sp":0,"hd":33},{"t":2.3,"lg":5.8,"rg":0.9,"lf":0.4,"rf":-0.8,"sp":0,"hd":33},{"t":3.3,"lg":5.3,"rg":0.3,"lf":0.4,"rf":-0.4,"sp":0,"hd":33},{"t":4.3,"lg":5.8,"rg":0.3,"lf":0.4,"rf":-0.4,"sp":0,"hd":33},
{"t":5.3,"lg":5.8,"rg":0.3,"lf":1.1,"rf":-0.4,"sp":0,"hd":33},{"t":6.3,"lg":5.8,"rg":0.3,"lf":0.4,"rf":-0.8,"sp":0,"hd":33},{"t":7.3,"lg":5.8,"rg":0.3,"lf":1.1,"rf":-0.4,"sp":0,"hd":33},{"t":8.3,"lg":5.3,"rg":0.3,"lf":0.4,"rf":-0.4,"sp":0,"hd":33},{"t":9.3,"lg":5.8,"rg":0.3,"lf":0.4,"rf":-0.4,"sp":0,"hd":33},
{"t":10.3,"lg":5.8,"rg":0.9,"lf":0.4,"rf":-0.4,"sp":0,"hd":33},{"t":11.3,"lg":5.8,"rg":0.3,"lf":0.4,"rf":-0.4,"sp":0,"hd":33},{"t":12.3,"lg":5.8,"rg":0.3,"lf":1.1,"rf":-0.4,"sp":0,"hd":33},{"t":13.3,"lg":5.3,"rg":0.3,"lf":0.4,"rf":-0.8,"sp":0,"hd":33},{"t":14.3,"lg":5.3,"rg":0.3,"lf":0.4,"rf":-0.4,"sp":0,"hd":33},
{"t":15.3,"lg":5.8,"rg":0.3,"lf":1.1,"rf":-0.4,"sp":0,"hd":33},{"t":16.3,"lg":5.8,"rg":0.3,"lf":0.4,"rf":-0.4,"sp":0,"hd":33},{"t":17.3,"lg":5.8,"rg":0.3,"lf":0.4,"rf":-0.4,"sp":0,"hd":33},{"t":18.3,"lg":5.8,"rg":0.3,"lf":0.4,"rf":-0.4,"sp":0,"hd":33},{"t":19.3,"lg":5.3,"rg":0.3,"lf":0.4,"rf":-0.4,"sp":0,"hd":33},
{"t":20.3,"lg":5.3,"rg":0.3,"lf":0.4,"rf":-0.8,"sp":0,"hd":33},{"t":21.3,"lg":5.3,"rg":0.3,"lf":0.4,"rf":-0.4,"sp":0,"hd":33},{"t":22.3,"lg":5.3,"rg":0.3,"lf":0.4,"rf":-0.4,"sp":0,"hd":33},{"t":23.3,"lg":5.3,"rg":0.3,"lf":0.4,"rf":-0.4,"sp":0,"hd":33},{"t":24.3,"lg":5.8,"rg":0.3,"lf":1.1,"rf":-0.4,"sp":0,"hd":33},
{"t":25.3,"lg":5.8,"rg":0.3,"lf":0.4,"rf":-0.4,"sp":0,"hd":33},{"t":26.3,"lg":5.8,"rg":0.3,"lf":0.4,"rf":-0.4,"sp":0,"hd":33},{"t":27.3,"lg":5.3,"rg":0.3,"lf":0.4,"rf":-0.4,"sp":0,"hd":33},{"t":28.3,"lg":5.3,"rg":0.3,"lf":0.4,"rf":-0.4,"sp":0,"hd":33},{"t":29.3,"lg":5.3,"rg":0.3,"lf":0.4,"rf":-0.4,"sp":0,"hd":33},
{"t":30.3,"lg":5.8,"rg":0.9,"lf":0.4,"rf":-0.4,"sp":0,"hd":33},{"t":31.3,"lg":5.8,"rg":0.3,"lf":0.4,"rf":-0.4,"sp":0,"hd":33},{"t":32.3,"lg":5.3,"rg":0.3,"lf":0.4,"rf":-0.4,"sp":0,"hd":33},{"t":33.3,"lg":5.8,"rg":0.3,"lf":1.1,"rf":-0.4,"sp":0,"hd":33},{"t":34.3,"lg":5.8,"rg":0.3,"lf":0.4,"rf":-0.4,"sp":0,"hd":33},
{"t":35.3,"lg":5.8,"rg":0.3,"lf":0.4,"rf":-0.4,"sp":0,"hd":33},{"t":36.3,"lg":5.8,"rg":0.3,"lf":0.4,"rf":-0.4,"sp":0,"hd":33},{"t":37.3,"lg":5.3,"rg":0.3,"lf":0.4,"rf":-0.4,"sp":0,"hd":33},{"t":38.3,"lg":5.3,"rg":0.3,"lf":0.4,"rf":-0.4,"sp":0,"hd":33},{"t":39.3,"lg":5.8,"rg":0.3,"lf":0.4,"rf":-0.4,"sp":0,"hd":33},
{"t":40.3,"lg":5.8,"rg":0.3,"lf":0.4,"rf":-0.4,"sp":0,"hd":33},{"t":41.3,"lg":5.8,"rg":0.3,"lf":0.4,"rf":-0.4,"sp":0,"hd":33},{"t":42.3,"lg":5.8,"rg":0.3,"lf":0.4,"rf":-0.4,"sp":0,"hd":33},{"t":43.3,"lg":5.8,"rg":0.3,"lf":0.4,"rf":-0.4,"sp":0,"hd":33},{"t":44.3,"lg":5.3,"rg":0.9,"lf":0.4,"rf":-0.4,"sp":0,"hd":33},
{"t":45.3,"lg":5.8,"rg":0.3,"lf":0.4,"rf":-0.4,"sp":0,"hd":33},{"t":46.3,"lg":5.8,"rg":0.3,"lf":0.4,"rf":-0.4,"sp":0,"hd":33},{"t":47.3,"lg":5.8,"rg":0.3,"lf":1.1,"rf":-0.4,"sp":0,"hd":33},{"t":48.3,"lg":5.8,"rg":0.3,"lf":0.4,"rf":-0.4,"sp":0,"hd":33},{"t":49.3,"lg":5.3,"rg":0.3,"lf":0.4,"rf":-0.4,"sp":0,"hd":33},
{"t":50.3,"lg":5.3,"rg":0.3,"lf":0.4,"rf":-0.4,"sp":0,"hd":33.7},{"t":51.3,"lg":5.3,"rg":0.3,"lf":0.4,"rf":-0.4,"sp":0,"hd":31.3},{"t":52.3,"lg":5.8,"rg":0.3,"lf":0.4,"rf":-0.4,"sp":0.65,"hd":31.3},{"t":53.3,"lg":5.8,"rg":0.3,"lf":0.4,"rf":-0.4,"sp":1.77,"hd":37.8},{"t":54.3,"lg":5.8,"rg":0.3,"lf":0.4,"rf":-0.4,"sp":2.1,"hd":39.5},
{"t":55.3,"lg":5.8,"rg":0.3,"lf":0.4,"rf":-0.4,"sp":2.65,"hd":45.2},{"t":56.3,"lg":5.8,"rg":0.3,"lf":0.4,"rf":-0.4,"sp":3.0,"hd":49.4},{"t":57.3,"lg":5.8,"rg":0.3,"lf":0.4,"rf":-0.4,"sp":3.4,"hd":55.9},{"t":58.3,"lg":5.8,"rg":0.3,"lf":1.1,"rf":-0.4,"sp":3.96,"hd":64.2},{"t":59.3,"lg":5.8,"rg":0.3,"lf":0.4,"rf":-0.4,"sp":4.5,"hd":69.9},
{"t":60.3,"lg":5.8,"rg":0.3,"lf":0.4,"rf":-0.4,"sp":4.96,"hd":74.9},{"t":61.3,"lg":5.8,"rg":0.3,"lf":0.4,"rf":-0.4,"sp":4.96,"hd":80.6},{"t":62.3,"lg":5.3,"rg":0.3,"lf":0.4,"rf":-0.4,"sp":5.4,"hd":84.7},{"t":63.3,"lg":5.3,"rg":0.3,"lf":0.4,"rf":-0.4,"sp":5.74,"hd":76.5},{"t":64.3,"lg":5.8,"rg":0.3,"lf":0.4,"rf":-0.4,"sp":6.2,"hd":72.4},
{"t":65.3,"lg":5.8,"rg":0.3,"lf":0.4,"rf":-0.4,"sp":6.7,"hd":66.6},{"t":66.3,"lg":5.8,"rg":0.3,"lf":1.1,"rf":-0.4,"sp":6.2,"hd":60},{"t":67.3,"lg":5.8,"rg":0.3,"lf":0.4,"rf":-0.4,"sp":4.96,"hd":51.8},{"t":68.3,"lg":5.8,"rg":0.3,"lf":0.4,"rf":-0.4,"sp":3.4,"hd":45.2},{"t":69.3,"lg":5.3,"rg":0.3,"lf":0.4,"rf":-0.4,"sp":1.77,"hd":42},
{"t":70.3,"lg":5.8,"rg":0.3,"lf":0.4,"rf":-0.4,"sp":0.65,"hd":37.8},{"t":71.3,"lg":5.8,"rg":0.9,"lf":0.4,"rf":-0.4,"sp":0.65,"hd":37.8},{"t":72.3,"lg":5.8,"rg":0.3,"lf":0.4,"rf":-0.4,"sp":0,"hd":37.8},{"t":73.3,"lg":5.3,"rg":0.3,"lf":0.4,"rf":-0.4,"sp":0,"hd":37.8},{"t":74.3,"lg":5.3,"rg":0.3,"lf":0.4,"rf":-0.4,"sp":0,"hd":37.8},
{"t":75.3,"lg":5.8,"rg":0.3,"lf":0.4,"rf":-0.4,"sp":0,"hd":37.8},{"t":76.3,"lg":5.8,"rg":0.3,"lf":0.4,"rf":-0.4,"sp":0,"hd":37.8},{"t":77.3,"lg":5.8,"rg":0.3,"lf":0.4,"rf":-0.4,"sp":0,"hd":37.8},{"t":78.3,"lg":5.8,"rg":0.3,"lf":0.4,"rf":-0.4,"sp":0,"hd":37.8},{"t":79.3,"lg":5.8,"rg":0.3,"lf":0.4,"rf":-0.4,"sp":0,"hd":37.8},
{"t":80.3,"lg":5.3,"rg":0.3,"lf":1.1,"rf":-0.4,"sp":0,"hd":37.8},{"t":81.3,"lg":5.3,"rg":0.3,"lf":0.4,"rf":-0.4,"sp":0,"hd":37.8},{"t":82.3,"lg":5.8,"rg":0.3,"lf":0.4,"rf":-0.4,"sp":0,"hd":37.8},{"t":83.3,"lg":5.8,"rg":0.3,"lf":0.4,"rf":-0.4,"sp":0,"hd":37.8},{"t":84.3,"lg":5.8,"rg":0.3,"lf":0.4,"rf":-0.4,"sp":0,"hd":37.8},
{"t":85.3,"lg":5.3,"rg":0.3,"lf":0.4,"rf":-0.4,"sp":0,"hd":37.8},{"t":86.3,"lg":5.3,"rg":0.3,"lf":1.1,"rf":-0.4,"sp":0,"hd":37.8},{"t":87.3,"lg":5.3,"rg":0.3,"lf":0.4,"rf":-0.4,"sp":0,"hd":37.8},{"t":88.3,"lg":5.8,"rg":0.3,"lf":0.4,"rf":-0.4,"sp":0,"hd":37.8},{"t":89.3,"lg":5.3,"rg":0.3,"lf":0.4,"rf":-0.4,"sp":0,"hd":37.8}
],
"brkR":[{"t":0,"v":2408},{"t":2,"v":2456},{"t":4,"v":2456},{"t":6,"v":2440},{"t":8,"v":2488},{"t":10,"v":2488},{"t":12,"v":2488},{"t":14,"v":2488},{"t":16,"v":2488},{"t":18,"v":2488},{"t":20,"v":2488},{"t":22,"v":2488},{"t":24,"v":2488},{"t":26,"v":2520},{"t":28,"v":2520},{"t":30,"v":2520},{"t":32,"v":2520},{"t":34,"v":2520},{"t":36,"v":2520},{"t":38,"v":2520},{"t":40,"v":2520},{"t":42,"v":2520},{"t":44,"v":123},{"t":46,"v":102},{"t":48,"v":102},{"t":50,"v":102},{"t":52,"v":102},{"t":54,"v":102},{"t":56,"v":102},{"t":58,"v":102},{"t":60,"v":102},{"t":62,"v":102},{"t":64,"v":102},{"t":66,"v":464},{"t":68,"v":610},{"t":70,"v":521},{"t":72,"v":464},{"t":74,"v":464},{"t":76,"v":470},{"t":78,"v":470},{"t":80,"v":480},{"t":82,"v":610},{"t":84,"v":610},{"t":86,"v":597},{"t":88,"v":676},{"t":90,"v":146}],
"brkL":[{"t":1,"v":2456},{"t":3,"v":2456},{"t":5,"v":2440},{"t":7,"v":2440},{"t":9,"v":2488},{"t":11,"v":2488},{"t":13,"v":2488},{"t":15,"v":2488},{"t":17,"v":2488},{"t":19,"v":2488},{"t":21,"v":2488},{"t":23,"v":2488},{"t":25,"v":2488},{"t":27,"v":2520},{"t":29,"v":2520},{"t":31,"v":2520},{"t":33,"v":2520},{"t":35,"v":2520},{"t":37,"v":2520},{"t":39,"v":2520},{"t":41,"v":2520},{"t":43,"v":278},{"t":45,"v":102},{"t":47,"v":102},{"t":49,"v":102},{"t":51,"v":102},{"t":53,"v":102},{"t":55,"v":102},{"t":57,"v":102},{"t":59,"v":102},{"t":61,"v":102},{"t":63,"v":102},{"t":65,"v":102},{"t":67,"v":676},{"t":69,"v":676},{"t":71,"v":676},{"t":73,"v":676},{"t":75,"v":676},{"t":77,"v":676},{"t":79,"v":676},{"t":81,"v":676},{"t":83,"v":676},{"t":85,"v":676},{"t":87,"v":773},{"t":89,"v":546},{"t":91,"v":100}],
"sat":[{"t":-1.1,"v":24.8},{"t":0.9,"v":24.8},{"t":2.9,"v":24.8},{"t":4.9,"v":24.8},{"t":6.9,"v":24.8},{"t":8.9,"v":24.8},{"t":10.9,"v":24.8},{"t":12.9,"v":24.8},{"t":14.9,"v":24.8},{"t":16.9,"v":24.8},{"t":18.9,"v":24.8},{"t":20.9,"v":25.0},{"t":22.9,"v":25.0},{"t":24.9,"v":25.0},{"t":26.9,"v":25.0},{"t":28.9,"v":25.0},{"t":30.9,"v":25.0},{"t":32.9,"v":25.2},{"t":34.9,"v":25.0},{"t":36.9,"v":25.2},{"t":38.9,"v":25.2},{"t":40.9,"v":25.2},{"t":42.9,"v":25.2},{"t":44.9,"v":25.2},{"t":46.9,"v":25.2},{"t":48.9,"v":25.2},{"t":50.9,"v":25.2},{"t":52.9,"v":25.2},{"t":54.9,"v":25.2},{"t":56.9,"v":24.9},{"t":58.9,"v":24.9},{"t":60.9,"v":24.9},{"t":62.9,"v":24.9},{"t":64.9,"v":24.9},{"t":66.9,"v":24.9},{"t":68.9,"v":24.9},{"t":70.9,"v":24.9},{"t":72.9,"v":24.9},{"t":74.9,"v":24.9},{"t":76.9,"v":24.9},{"t":78.9,"v":24.9},{"t":80.9,"v":24.9},{"t":82.9,"v":24.9},{"t":84.9,"v":24.9},{"t":86.9,"v":24.9},{"t":88.9,"v":24.9},{"t":90.9,"v":24.9}],
"ann":[
{"t":4.2,"u":0.172,"label":"Flaps 39 DEG","grp":"f39"},
{"t":78.1,"u":0.769,"label":"Flaps 20 DEG","grp":"f20"},
{"t":3.9,"u":1.385,"label":"Flaps 10 DEG","grp":"f10"},
{"t":78.85,"u":1.981,"label":"Flaps 0 DEG","grp":"f0"},
{"t":5.46,"u":2.578,"label":"Yaw damper status","grp":"yd"},
{"t":75.93,"u":3.174,"label":"Master Red","grp":"mr"},
{"t":10.25,"u":3.773,"label":"Comb hyd syst fail","grp":"ch"},
{"t":76.55,"u":4.391,"label":"Master Amber","grp":"ma"},
{"t":17.75,"u":4.859,"label":"Initial Conditions:","grp":"note"},
{"t":17.75,"u":5.12,"label":"GL ON","grp":"note"},
{"t":17.75,"u":5.38,"label":"Yaw Damp ON","grp":"note"},
{"t":17.75,"u":5.642,"label":"Rudder Trim Zero","grp":"note"},
{"t":30.44,"u":6.48,"label":"GL unlatched by pilot","grp":"note"},
{"t":63.63,"u":6.494,"label":"Rudder Limit Light ON","grp":"note"},
{"t":73.0,"u":6.851,"label":"GL snaps forward","grp":"note"},
{"t":73.0,"u":7.112,"label":"Rudder Limit Light OFF","grp":"note"},
{"t":19.37,"u":7.675,"label":"Rudder Limit Light ON (rudder trim","grp":"note"},
{"t":19.37,"u":7.936,"label":"input) then backed off until","grp":"note"},
{"t":19.37,"u":8.197,"label":"Rudder Limit Light OFF","grp":"note"},
{"t":9.83,"u":9.384,"label":"Right ground spoiler position (deg)","grp":"rgs"},
{"t":33.05,"u":9.384,"label":"Left ground spoiler position (deg)","grp":"lgs"},
{"t":36.2,"u":10.794,"label":"Left inbd flight spoiler position (deg)","grp":"lfs"},
{"t":57.41,"u":10.794,"label":"Right inbd flight spoiler position (deg)","grp":"rfs"},
{"t":74.95,"u":19.59,"label":"Static Air Temp (degC)","grp":"sat"}
],
"boxes":[
{"t1":17.43,"t2":28.6,"u1":4.72,"u2":5.78},
{"t1":68.81,"t2":78.95,"u1":5.42,"u2":5.695},
{"t1":70.09,"t2":80.92,"u1":8.596,"u2":8.885},
{"t1":29.74,"t2":35.2,"u1":12.374,"u2":12.649},
{"t1":29.44,"t2":39.5,"u1":14.546,"u2":14.834},
{"t1":39.9,"t2":44.43,"u1":16.54,"u2":16.83},
{"t1":25.37,"t2":35.43,"u1":17.706,"u2":17.98}
],
"boxlab":[
{"t":73.88,"u":5.557,"label":"Rudder Position"},
{"t":75.5,"u":8.74,"label":"Elevator Position"},
{"t":32.47,"u":12.51,"label":"Heading"},
{"t":34.47,"u":14.69,"label":"Aileron Position"},
{"t":42.17,"u":16.685,"label":"Speed"},
{"t":30.4,"u":17.843,"label":"Brake Pressure"}
],
"arrows":[
{"id":1,"t1":30.44,"u1":6.495,"t2":15.9,"u2":6.755},
{"id":2,"t1":63.63,"u1":6.508,"t2":53.88,"u2":6.905},
{"id":3,"t1":72.94,"u1":7.002,"t2":62.94,"u2":7.332},
{"id":4,"t1":19.37,"u1":7.979,"t2":5.92,"u2":8.115}
]
},
"resolve":{"scale":{"y":"independent"},"axis":{"x":"independent","y":"independent"}},
"layer":[
{"data":{"name":"frame"},"mark":{"type":"point","opacity":0},
 "encoding":{
  "x":{"field":"t","type":"quantitative","scale":{"domain":[0,90],"nice":false},
   "axis":{"orient":"bottom","values":[0,2,4,6,8,10,12,14,16,18,20,22,24,26,28,30,32,34,36,38,40,42,44,46,48,50,52,54,56,58,60,62,64,66,68,70,72,74,76,78,80,82,84,86,88,90],
    "grid":true,"gridColor":{"condition":{"test":"datum.value % 10 === 0","value":"#b9b9b9"},"value":"#e3e3e3"},"gridWidth":1,
    "labelExpr":"datum.value % 10 === 0 ? '00:' + (17 + floor((datum.value + 10) / 60)) + ':' + (((datum.value + 10) % 60) < 10 ? '0' : '') + ((datum.value + 10) % 60) : ''",
    "labelAngle":90,"labelPadding":3,"tickSize":6,"tickColor":"#000000","domain":false,"labelColor":"#000000",
    "title":"Time (Video Time)","titleColor":"#000000","titleY":88,"titleBaseline":"middle"}},
  "y":{"field":"g","type":"quantitative","scale":{"domain":[0,100],"range":[0,1509],"nice":false,"zero":false},
   "axis":{"orient":"left","values":[0,1,2,3,4,5,6,7,8,9,10,11,12,13,14,15,16,17,18,19,20,21,22,23,24,25,26,27,28,29,30,31,32,33,34,35,36,37,38,39,40,41,42,43,44,45,46,47,48,49,50,51,52,53,54,55,56,57,58,59,60,61,62,63,64,65,66,67,68,69,70,71,72,73,74,75,76,77,78,79,80,81,82,83,84,85,86,87,88,89,90,91,92,93,94,95,96,97,98,99,100],
    "grid":true,"gridColor":{"condition":{"test":"datum.value % 5 === 0","value":"#b9b9b9"},"value":"#e3e3e3"},"gridWidth":1,"labels":false,"ticks":false,"domain":false,"title":null}}
 }},
{"data":{"name":"bin"},"mark":{"type":"line","color":"#000000","strokeWidth":1.3,"clip":true,"point":{"shape":"square","filled":false,"size":25,"strokeWidth":1.1,"color":"#000000","clip":true}},
 "encoding":{"x":{"field":"t","type":"quantitative","scale":{"domain":[0,90],"nice":false},"axis":null},
  "y":{"field":"f39","type":"quantitative","scale":{"domain":[0,1],"range":[30.18,0],"nice":false,"zero":false},
   "axis":{"orient":"left","offset":3,"values":[0,1],"labelExpr":"datum.value === 1 ? 'ON' : 'OFF'","tickSize":8,"labelPadding":4,"labelColor":"#000000","tickColor":"#000000","domainColor":"#000000","title":null}}}},
{"data":{"name":"bin"},"mark":{"type":"line","color":"#ff9c00","strokeWidth":1.3,"clip":true,"point":{"shape":"triangle-up","filled":false,"size":22,"strokeWidth":1.1,"color":"#ff9c00","clip":true}},
 "encoding":{"x":{"field":"t","type":"quantitative","scale":{"domain":[0,90],"nice":false},"axis":null},
  "y":{"field":"f20","type":"quantitative","scale":{"domain":[0,1],"range":[75.45,45.27],"nice":false,"zero":false},
   "axis":{"orient":"right","offset":3,"values":[0,1],"labelExpr":"datum.value === 1 ? 'ON' : 'OFF'","tickSize":8,"labelPadding":3,"labelColor":"#ff9c00","tickColor":"#ff9c00","domainColor":"#ff9c00","title":null}}}},
{"data":{"name":"bin"},"mark":{"type":"line","color":"#a656a6","strokeWidth":1.3,"clip":true,"point":{"shape":"M0,-1L0,1","filled":false,"size":49,"strokeWidth":1.2,"color":"#a656a6","clip":true}},
 "encoding":{"x":{"field":"t","type":"quantitative","scale":{"domain":[0,90],"nice":false},"axis":null},
  "y":{"field":"f10","type":"quantitative","scale":{"domain":[0,1],"range":[120.72,90.54],"nice":false,"zero":false},
   "axis":{"orient":"left","offset":3,"values":[0,1],"labelExpr":"datum.value === 1 ? 'ON' : 'OFF'","tickSize":8,"labelPadding":4,"labelColor":"#a656a6","tickColor":"#a656a6","domainColor":"#a656a6","title":null}}}},
{"data":{"name":"bin"},"mark":{"type":"line","color":"#00dc00","strokeWidth":1.3,"clip":true,"point":{"shape":"M-1,-1L1,1M-1,1L1,-1","filled":false,"size":25,"strokeWidth":1.1,"color":"#00dc00","clip":true}},
 "encoding":{"x":{"field":"t","type":"quantitative","scale":{"domain":[0,90],"nice":false},"axis":null},
  "y":{"field":"f0","type":"quantitative","scale":{"domain":[0,1],"range":[165.99,135.81],"nice":false,"zero":false},
   "axis":{"orient":"right","offset":3,"values":[0,1],"labelExpr":"datum.value === 1 ? 'ON' : 'OFF'","tickSize":8,"labelPadding":3,"labelColor":"#00dc00","tickColor":"#00dc00","domainColor":"#00dc00","title":null}}}},
{"data":{"name":"bin"},"mark":{"type":"line","color":"#a656a6","strokeWidth":1.3,"clip":true,"point":{"shape":"M0,-1L0,1","filled":false,"size":49,"strokeWidth":1.2,"color":"#a656a6","clip":true}},
 "encoding":{"x":{"field":"t","type":"quantitative","scale":{"domain":[0,90],"nice":false},"axis":null},
  "y":{"field":"yd","type":"quantitative","scale":{"domain":[0,1],"range":[211.26,181.08],"nice":false,"zero":false},
   "axis":{"orient":"left","offset":3,"values":[0,1],"labelExpr":"datum.value === 1 ? 'ENG' : '-'","tickSize":8,"labelPadding":4,"labelColor":"#a656a6","tickColor":"#a656a6","domainColor":"#a656a6","title":null}}}},
{"data":{"name":"bin"},"mark":{"type":"line","color":"#ff0000","strokeWidth":1.3,"clip":true,"point":{"shape":"square","filled":false,"size":25,"strokeWidth":1.1,"color":"#ff0000","clip":true}},
 "encoding":{"x":{"field":"t","type":"quantitative","scale":{"domain":[0,90],"nice":false},"axis":null},
  "y":{"field":"mr","type":"quantitative","scale":{"domain":[0,1],"range":[256.53,226.35],"nice":false,"zero":false},
   "axis":{"orient":"right","offset":3,"values":[0,1],"labelExpr":"datum.value === 1 ? 'ON' : 'OFF'","tickSize":8,"labelPadding":3,"labelColor":"#ff0000","tickColor":"#ff0000","domainColor":"#ff0000","title":null}}}},
{"data":{"name":"hyd"},"mark":{"type":"line","color":"#00dc00","strokeWidth":1.3,"clip":true,"point":{"shape":"M-1,-1L1,1M-1,1L1,-1","filled":false,"size":25,"strokeWidth":1.1,"color":"#00dc00","clip":true}},
 "encoding":{"x":{"field":"t","type":"quantitative","scale":{"domain":[0,90],"nice":false},"axis":null},
  "y":{"field":"ch","type":"quantitative","scale":{"domain":[0,1],"range":[301.8,271.62],"nice":false,"zero":false},
   "axis":{"orient":"left","offset":3,"values":[0,1],"labelExpr":"datum.value === 1 ? 'Fail' : 'Valid'","tickSize":8,"labelPadding":4,"labelColor":"#00dc00","tickColor":"#00dc00","domainColor":"#00dc00","title":null}}}},
{"data":{"name":"bin"},"mark":{"type":"line","color":"#ff9c00","strokeWidth":1.3,"clip":true,"point":{"shape":"M-1,-1L1,1M-1,1L1,-1","filled":false,"size":25,"strokeWidth":1.1,"color":"#ff9c00","clip":true}},
 "encoding":{"x":{"field":"t","type":"quantitative","scale":{"domain":[0,90],"nice":false},"axis":null},
  "y":{"field":"ma","type":"quantitative","scale":{"domain":[0,1],"range":[347.07,316.89],"nice":false,"zero":false},
   "axis":{"orient":"right","offset":3,"values":[0,1],"labelExpr":"datum.value === 1 ? 'ON' : 'OFF'","tickSize":8,"labelPadding":3,"labelColor":"#ff9c00","tickColor":"#ff9c00","domainColor":"#ff9c00","title":null}}}},
{"data":{"name":"rud"},"mark":{"type":"line","color":"#ff0000","strokeWidth":1.2,"clip":true,"point":{"shape":"diamond","filled":false,"size":28,"strokeWidth":1,"color":"#ff0000","clip":true}},
 "encoding":{"x":{"field":"t","type":"quantitative","scale":{"domain":[0,90],"nice":false},"axis":null},
  "y":{"field":"v","type":"quantitative","scale":{"domain":[-5,5],"range":[377.25,528.15],"nice":false,"zero":false},
   "axis":{"orient":"left","offset":3,"values":[-5,-4,-3,-2,-1,0,1,2,3,4,5],"labelExpr":"datum.value % 5 === 0 ? '' + datum.value : ''","tickSize":{"condition":{"test":"datum.value % 5 === 0","value":8},"value":4},"labelPadding":4,"labelColor":"#ff0000","tickColor":"#ff0000","domainColor":"#ff0000",
    "title":"Rudder position (deg)","titleColor":"#ff0000","titleAngle":90,"titleX":-53.5,"titleY":451,"titleAlign":"center","titleBaseline":"middle"}}}},
{"data":{"name":"elev"},"mark":{"type":"line","color":"#5b2ae0","strokeWidth":1.3,"clip":true,"point":{"shape":"triangle-up","filled":false,"size":18,"strokeWidth":1,"color":"#5b2ae0","clip":true}},
 "encoding":{"x":{"field":"t","type":"quantitative","scale":{"domain":[0,90],"nice":false},"axis":null},
  "y":{"field":"v","type":"quantitative","scale":{"domain":[-20,-10],"range":[679.05,603.6],"nice":false,"zero":false},
   "axis":{"orient":"right","offset":3,"values":[-20,-18,-16,-14,-12,-10],"labelExpr":"datum.value % 10 === 0 ? '' + datum.value : ''","tickSize":{"condition":{"test":"datum.value % 10 === 0","value":8},"value":4},"labelPadding":3,"labelColor":"#5b2ae0","tickColor":"#5b2ae0","domainColor":"#5b2ae0",
    "title":"Elevator position (deg)","titleColor":"#5b2ae0","titleAngle":90,"titleX":60,"titleY":632,"titleAlign":"center","titleBaseline":"middle"}}}},
{"data":{"name":"s1"},"mark":{"type":"line","color":"#000000","strokeWidth":1.2,"clip":true,"point":{"shape":"square","filled":false,"size":28,"strokeWidth":1.1,"color":"#000000","clip":true}},
 "encoding":{"x":{"field":"t","type":"quantitative","scale":{"domain":[0,90],"nice":false},"axis":null},
  "y":{"field":"lg","type":"quantitative","scale":{"domain":[0,30],"range":[754.5,679.05],"nice":false,"zero":false},
   "axis":{"orient":"left","offset":3,"values":[0,6,12,18,24,30],"labelExpr":"datum.value % 30 === 0 ? '' + datum.value : ''","tickSize":{"condition":{"test":"datum.value % 30 === 0","value":8},"value":4},"labelPadding":4,"labelColor":"#000000","tickColor":"#000000","domainColor":"#000000","title":null}}}},
{"data":{"name":"s1"},"mark":{"type":"line","color":"#ff0000","strokeWidth":1.2,"clip":true,"point":{"shape":"diamond","filled":false,"size":22,"strokeWidth":1,"color":"#ff0000","clip":true}},
 "encoding":{"x":{"field":"t","type":"quantitative","scale":{"domain":[0,90],"nice":false},"axis":null},
  "y":{"field":"rg","type":"quantitative","scale":{"domain":[0,30],"range":[754.5,679.05],"nice":false,"zero":false},"axis":null}}},
{"data":{"name":"s1"},"mark":{"type":"line","color":"#00dc00","strokeWidth":1.2,"clip":true,"point":{"shape":"triangle-up","filled":false,"size":22,"strokeWidth":1,"color":"#00dc00","clip":true}},
 "encoding":{"x":{"field":"t","type":"quantitative","scale":{"domain":[0,90],"nice":false},"axis":null},
  "y":{"field":"rf","type":"quantitative","scale":{"domain":[0,30],"range":[829.95,754.5],"nice":false,"zero":false},"axis":null}}},
{"data":{"name":"s1"},"mark":{"type":"line","color":"#d97b27","strokeWidth":1.2,"clip":true,"point":{"shape":"circle","filled":false,"size":38,"strokeWidth":1.1,"color":"#d97b27","clip":true}},
 "encoding":{"x":{"field":"t","type":"quantitative","scale":{"domain":[0,90],"nice":false},"axis":null},
  "y":{"field":"lf","type":"quantitative","scale":{"domain":[0,30],"range":[829.95,754.5],"nice":false,"zero":false},
   "axis":{"orient":"right","offset":3,"values":[0,6,12,18,24,30],"labelExpr":"datum.value % 30 === 0 ? '' + datum.value : ''","tickSize":{"condition":{"test":"datum.value % 30 === 0","value":8},"value":4},"labelPadding":3,"labelColor":"#d97b27","tickColor":"#d97b27","domainColor":"#d97b27","title":null}}}},
{"data":{"name":"s1"},"mark":{"type":"line","color":"#00dc00","strokeWidth":1.2,"clip":true,"point":{"shape":"triangle-up","filled":false,"size":30,"strokeWidth":1.1,"color":"#00dc00","clip":true}},
 "encoding":{"x":{"field":"t","type":"quantitative","scale":{"domain":[0,90],"nice":false},"axis":null},
  "y":{"field":"hd","type":"quantitative","scale":{"domain":[0,360],"range":[905.4,1056.3],"nice":false,"zero":false},
   "axis":{"orient":"right","offset":3,"values":[0,36,72,108,144,180,216,252,288,324,360],"labelExpr":"datum.value % 180 === 0 ? '' + datum.value : ''","tickSize":{"condition":{"test":"datum.value % 180 === 0","value":8},"value":4},"labelPadding":3,"labelColor":"#00dc00","tickColor":"#00dc00","domainColor":"#00dc00",
    "title":"Magnetic heading (deg)","titleColor":"#00dc00","titleAngle":90,"titleX":68,"titleY":979,"titleAlign":"center","titleBaseline":"middle"}}}},
{"data":{"name":"ail"},"mark":{"type":"line","color":"#0000ff","strokeWidth":1.2,"clip":true,"point":{"shape":"diamond","filled":false,"size":16,"strokeWidth":1,"color":"#0000ff","clip":true}},
 "encoding":{"x":{"field":"t","type":"quantitative","scale":{"domain":[0,90],"nice":false},"axis":null},
  "y":{"field":"r","type":"quantitative","scale":{"domain":[-5,5],"range":[1207.2,1056.3],"nice":false,"zero":false},
   "axis":{"orient":"left","offset":3,"values":[-5,-4,-3,-2,-1,0,1,2,3,4,5],"labelExpr":"datum.value % 5 === 0 ? '' + datum.value : ''","tickSize":{"condition":{"test":"datum.value % 5 === 0","value":8},"value":4},"labelPadding":4,"labelColor":"#0000ff","tickColor":"#0000ff","domainColor":"#0000ff",
    "title":"Right aileron position (deg)","titleColor":"#0000ff","titleAngle":90,"titleX":-73.5,"titleY":1131,"titleAlign":"center","titleBaseline":"middle"}}}},
{"data":{"name":"ail"},"mark":{"type":"line","color":"#000000","strokeWidth":1.2,"clip":true,"point":{"shape":"square","filled":false,"size":14,"strokeWidth":1,"color":"#000000","clip":true}},
 "encoding":{"x":{"field":"t","type":"quantitative","scale":{"domain":[0,90],"nice":false},"axis":null},
  "y":{"field":"l","type":"quantitative","scale":{"domain":[-5,5],"range":[1207.2,1056.3],"nice":false,"zero":false},
   "axis":{"orient":"left","offset":3,"labels":false,"ticks":false,"domain":false,
    "title":"Left aileron position (deg)","titleColor":"#000000","titleAngle":90,"titleX":-53.5,"titleY":1130,"titleAlign":"center","titleBaseline":"middle"}}}},
{"data":{"name":"s1"},"mark":{"type":"line","color":"#ff0000","strokeWidth":1.2,"clip":true,"point":{"shape":"diamond","filled":false,"size":25,"strokeWidth":1,"color":"#ff0000","clip":true}},
 "encoding":{"x":{"field":"t","type":"quantitative","scale":{"domain":[0,90],"nice":false},"axis":null},
  "y":{"field":"sp","type":"quantitative","scale":{"domain":[0,25],"range":[1282.65,1207.2],"nice":false,"zero":false},
   "axis":{"orient":"right","offset":3,"values":[0,5,10,15,20,25],"labelExpr":"datum.value % 25 === 0 ? '' + datum.value : ''","tickSize":{"condition":{"test":"datum.value % 25 === 0","value":8},"value":4},"labelPadding":3,"labelColor":"#ff0000","tickColor":"#ff0000","domainColor":"#ff0000",
    "title":"Ground speed (kts)","titleColor":"#ff0000","titleAngle":90,"titleX":55.6,"titleY":1236,"titleAlign":"center","titleBaseline":"middle"}}}},
{"data":{"name":"brkR"},"mark":{"type":"line","color":"#0000ff","strokeWidth":1.2,"clip":true,"point":{"shape":"circle","filled":false,"size":40,"strokeWidth":1.2,"color":"#0000ff","clip":true}},
 "encoding":{"x":{"field":"t","type":"quantitative","scale":{"domain":[0,90],"nice":false},"axis":null},
  "y":{"field":"v","type":"quantitative","scale":{"domain":[0,3000],"range":[1509,1282.65],"nice":false,"zero":false},
   "axis":{"orient":"left","offset":3,"values":[0,200,400,600,800,1000,1200,1400,1600,1800,2000,2200,2400,2600,2800,3000],"labelExpr":"datum.value % 1000 === 0 ? '' + datum.value : ''","tickSize":{"condition":{"test":"datum.value % 1000 === 0","value":8},"value":4},"labelPadding":4,"labelColor":"#0000ff","tickColor":"#0000ff","domainColor":"#0000ff",
    "title":"Right wheel brake pressure (PSI)","titleColor":"#0000ff","titleAngle":90,"titleX":-96,"titleY":1390,"titleAlign":"center","titleBaseline":"middle"}}}},
{"data":{"name":"brkL"},"mark":{"type":"line","color":"#000000","strokeWidth":1.2,"clip":true,"point":{"shape":"square","filled":false,"size":36,"strokeWidth":1.2,"color":"#000000","clip":true}},
 "encoding":{"x":{"field":"t","type":"quantitative","scale":{"domain":[0,90],"nice":false},"axis":null},
  "y":{"field":"v","type":"quantitative","scale":{"domain":[0,3000],"range":[1509,1282.65],"nice":false,"zero":false},
   "axis":{"orient":"left","offset":3,"labels":false,"ticks":false,"domain":false,
    "title":"Left wheel brake pressure (PSI)","titleColor":"#000000","titleAngle":90,"titleX":-76,"titleY":1386,"titleAlign":"center","titleBaseline":"middle"}}}},
{"data":{"name":"sat"},"mark":{"type":"line","color":"#ff0000","strokeWidth":1.2,"clip":true,"point":{"shape":"diamond","filled":false,"size":18,"strokeWidth":1,"color":"#ff0000","clip":true}},
 "encoding":{"x":{"field":"t","type":"quantitative","scale":{"domain":[0,90],"nice":false},"axis":null},
  "y":{"field":"v","type":"quantitative","scale":{"domain":[20,30],"range":[1509,1433.55],"nice":false,"zero":false},
   "axis":{"orient":"right","offset":3,"values":[20,22,24,26,28,30],"labelExpr":"datum.value % 10 === 0 ? '' + datum.value : ''","tickSize":{"condition":{"test":"datum.value % 10 === 0","value":8},"value":4},"labelPadding":3,"labelColor":"#ff0000","tickColor":"#ff0000","domainColor":"#ff0000","title":null}}}},
{"data":{"name":"events"},"mark":{"type":"rule","color":"#000000","strokeWidth":1.5},
 "encoding":{"x":{"field":"t","type":"quantitative","scale":{"domain":[0,90],"nice":false},"axis":null}}},
{"data":{"name":"boxes"},"mark":{"type":"rect","fill":"#ffffff","stroke":"#000000","strokeWidth":1.5},
 "encoding":{"x":{"field":"t1","type":"quantitative","scale":{"domain":[0,90],"nice":false},"axis":null},"x2":{"field":"t2"},
  "y":{"field":"u1","type":"quantitative","scale":{"domain":[0,20],"range":[0,1509],"nice":false,"zero":false},"axis":null},"y2":{"field":"u2"}}},
{"data":{"name":"boxlab"},"mark":{"type":"text","align":"center","baseline":"middle","color":"#000000","fontSize":16,"fontWeight":"bold"},
 "encoding":{"x":{"field":"t","type":"quantitative","scale":{"domain":[0,90],"nice":false},"axis":null},
  "y":{"field":"u","type":"quantitative","scale":{"domain":[0,20],"range":[0,1509],"nice":false,"zero":false},"axis":null},"text":{"field":"label"}}},
{"data":{"name":"ann"},"mark":{"type":"text","align":"left","baseline":"middle","fontSize":16,"fontWeight":"bold"},
 "encoding":{"x":{"field":"t","type":"quantitative","scale":{"domain":[0,90],"nice":false},"axis":null},
  "y":{"field":"u","type":"quantitative","scale":{"domain":[0,20],"range":[0,1509],"nice":false,"zero":false},"axis":null},
  "text":{"field":"label"},
  "color":{"field":"grp","type":"nominal","legend":null,"scale":{"domain":["f39","f20","f10","f0","yd","mr","ch","ma","note","rgs","lgs","lfs","rfs","sat"],"range":["#000000","#ff9c00","#a656a6","#00dc00","#a656a6","#ff0000","#00dc00","#ff9c00","#000000","#ff0000","#000000","#d97b27","#00dc00","#ff0000"]}}}},
{"data":{"name":"arrows"},"mark":{"type":"rule","color":"#000000","strokeWidth":2},
 "encoding":{"x":{"field":"t1","type":"quantitative","scale":{"domain":[0,90],"nice":false},"axis":null},"x2":{"field":"t2"},
  "y":{"field":"u1","type":"quantitative","scale":{"domain":[0,20],"range":[0,1509],"nice":false,"zero":false},"axis":null},"y2":{"field":"u2"}}},
{"data":{"name":"arrows"},"transform":[{"filter":"datum.id === 1"}],"mark":{"type":"point","shape":"M0,0L2,-0.7L2,0.7Z","size":361,"filled":true,"color":"#000000","opacity":1,"angle":-6},
 "encoding":{"x":{"field":"t2","type":"quantitative","scale":{"domain":[0,90],"nice":false},"axis":null},
  "y":{"field":"u2","type":"quantitative","scale":{"domain":[0,20],"range":[0,1509],"nice":false,"zero":false},"axis":null}}},
{"data":{"name":"arrows"},"transform":[{"filter":"datum.id === 2"}],"mark":{"type":"point","shape":"M0,0L2,-0.7L2,0.7Z","size":361,"filled":true,"color":"#000000","opacity":1,"angle":-12.8},
 "encoding":{"x":{"field":"t2","type":"quantitative","scale":{"domain":[0,90],"nice":false},"axis":null},
  "y":{"field":"u2","type":"quantitative","scale":{"domain":[0,20],"range":[0,1509],"nice":false,"zero":false},"axis":null}}},
{"data":{"name":"arrows"},"transform":[{"filter":"datum.id === 3"}],"mark":{"type":"point","shape":"M0,0L2,-0.7L2,0.7Z","size":361,"filled":true,"color":"#000000","opacity":1,"angle":-10.5},
 "encoding":{"x":{"field":"t2","type":"quantitative","scale":{"domain":[0,90],"nice":false},"axis":null},
  "y":{"field":"u2","type":"quantitative","scale":{"domain":[0,20],"range":[0,1509],"nice":false,"zero":false},"axis":null}}},
{"data":{"name":"arrows"},"transform":[{"filter":"datum.id === 4"}],"mark":{"type":"point","shape":"M0,0L2,-0.7L2,0.7Z","size":361,"filled":true,"color":"#000000","opacity":1,"angle":-3.2},
 "encoding":{"x":{"field":"t2","type":"quantitative","scale":{"domain":[0,90],"nice":false},"axis":null},
  "y":{"field":"u2","type":"quantitative","scale":{"domain":[0,20],"range":[0,1509],"nice":false,"zero":false},"axis":null}}}
]
}
